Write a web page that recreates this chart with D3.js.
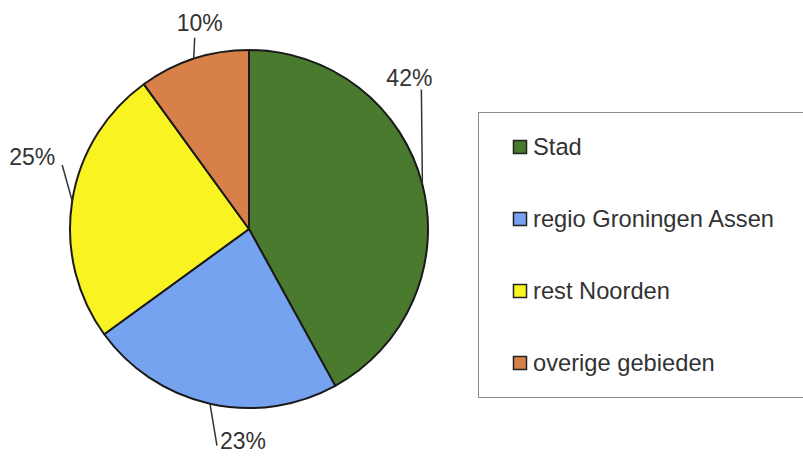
<!DOCTYPE html>
<html>
<head>
<meta charset="utf-8">
<script src="https://cdn.jsdelivr.net/npm/d3@7"></script>
<style>
  body { margin: 0; background: #fff; }
  text { font-family: 'Liberation Sans', Arial, sans-serif; fill: #333; }
</style>
</head>
<body>
<script>
let categories = ['Stad', 'regio Groningen Assen', 'rest Noorden', 'overige gebieden']
let values = [42, 23, 25, 10]
let colors = ['#4a7a2e', '#76a3f0', '#faf322', '#d8804a']

let width = 803
let height = 457

// where each leader line ends (relative to slice edge) and where its text sits (relative to line end)
let labelLayout = [
  { dx: -1, dy: -95, tx: -12, ty: -4, anchor: 'middle' },
  { dx: 7, dy: 42, tx: 3, ty: 3, anchor: 'start' },
  { dx: -10, dy: -36, tx: -7, ty: 0, anchor: 'end' },
  { dx: 1, dy: -21, tx: 5, ty: -7, anchor: 'middle' }
]

let cx = 249
let cy = 229
let radius = 179

let svg = d3.select('body').append('svg')
  .attr('width', width)
  .attr('height', height)

let color = d3.scaleOrdinal(categories, colors)

let pie = d3.pie().sort(null).value(d => d.value)
let arc = d3.arc().innerRadius(0).outerRadius(radius)

let data = categories.map((c, i) => ({ name: c, value: values[i] }))
let arcs = pie(data)

let g = svg.append('g').attr('transform', `translate(${cx},${cy})`)

g.selectAll('.slice')
  .data(arcs)
  .enter().append('path')
  .attr('class', 'slice')
  .attr('d', arc)
  .attr('fill', d => color(d.data.name))
  .attr('stroke', '#1a1a1a')
  .attr('stroke-width', 2)
  .attr('stroke-linejoin', 'round')

let total = d3.sum(values)

arcs.forEach((d, i) => {
  let mid = (d.startAngle + d.endAngle) / 2
  let x0 = radius * Math.sin(mid)
  let y0 = -radius * Math.cos(mid)
  let lay = labelLayout[i]
  let x1 = x0 + lay.dx
  let y1 = y0 + lay.dy
  g.append('line')
    .attr('x1', x0).attr('y1', y0)
    .attr('x2', x1).attr('y2', y1)
    .attr('stroke', '#333')
    .attr('stroke-width', 1.5)
  g.append('text')
    .attr('x', x1 + lay.tx)
    .attr('y', y1 + lay.ty)
    .attr('text-anchor', lay.anchor)
    .style('font-size', '23px')
    .text(Math.round(d.data.value / total * 100) + '%')
})

// legend
let legendY = d3.scalePoint(categories, [147, 363])

svg.append('rect')
  .attr('x', 478.5)
  .attr('y', 112.5)
  .attr('width', 340)
  .attr('height', 285)
  .attr('fill', 'none')
  .attr('stroke', '#8a8a8a')
  .attr('stroke-width', 1)

let item = svg.selectAll('.legend-item')
  .data(categories)
  .enter().append('g')
  .attr('class', 'legend-item')
  .attr('transform', d => `translate(513,${legendY(d)})`)

item.append('rect')
  .attr('x', 0.5)
  .attr('y', -6.5)
  .attr('width', 13)
  .attr('height', 13)
  .attr('fill', d => color(d))
  .attr('stroke', '#222')
  .attr('stroke-width', 1.5)

item.append('text')
  .attr('x', 20)
  .attr('y', 8)
  .style('font-size', '23.7px')
  .text(d => d)
</script>
</body>
</html>
